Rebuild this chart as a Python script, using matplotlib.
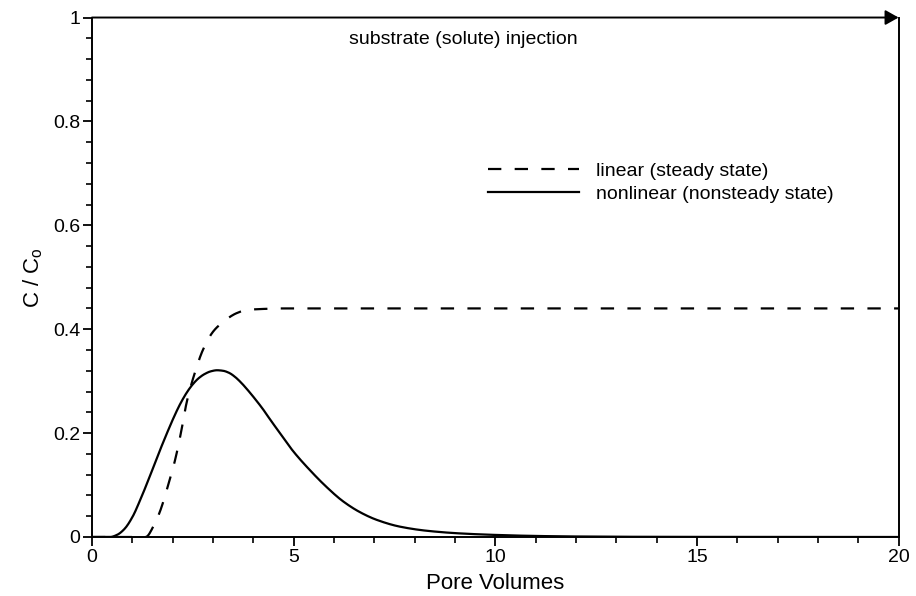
import matplotlib.pyplot as plt
import numpy as np

plt.rcParams['font.family'] = ['Liberation Sans', 'DejaVu Sans']
plt.rcParams['mathtext.fontset'] = 'custom'
plt.rcParams['mathtext.rm'] = 'Liberation Sans'

# linear (steady state) breakthrough curve
lin_x = [0.0, 1.33, 1.54, 1.69, 1.89, 2.06, 2.22, 2.35, 2.55, 2.75, 3.0, 3.22,
         3.59, 3.84, 4.24, 4.7, 5.5, 20.0]
lin_y = [0.0, 0.0, 0.023, 0.05, 0.10, 0.148, 0.206, 0.26, 0.316, 0.36, 0.395,
         0.412, 0.431, 0.437, 0.439, 0.44, 0.44, 0.44]

# nonlinear (nonsteady state) curve
nl_x = [0.0, 0.45, 0.62, 0.8, 1.0, 1.2, 1.44, 1.65, 1.86, 2.05, 2.18, 2.35,
        2.5, 2.65, 2.8, 2.95, 3.1, 3.25, 3.4, 3.55, 3.7, 3.85, 4.0, 4.24, 4.41,
        4.66, 4.98, 5.4, 5.82, 6.22, 6.64, 7.06, 7.63, 8.3, 9.1, 10.0, 11.0,
        12.0, 14.0, 20.0]
nl_y = [0.0, 0.0, 0.004, 0.015, 0.038, 0.072, 0.118, 0.16, 0.2, 0.234, 0.255,
        0.278, 0.294, 0.306, 0.314, 0.319, 0.321, 0.32, 0.316, 0.308, 0.297,
        0.284, 0.27, 0.246, 0.227, 0.2, 0.166, 0.129, 0.096, 0.069, 0.048,
        0.033, 0.02, 0.012, 0.007, 0.004, 0.002, 0.001, 0.0003, 0.0]

x_major = [0, 5, 10, 15, 20]
y_major = [0, 0.2, 0.4, 0.6, 0.8, 1]
y_labels = ['0', '0.2', '0.4', '0.6', '0.8', '1']


def pchip(xs, ys, n=800):
    # shape-preserving cubic through the read points
    xs = np.asarray(xs, float)
    ys = np.asarray(ys, float)
    h = np.diff(xs)
    d = np.diff(ys) / h
    m = np.zeros_like(ys)
    for k in range(1, len(xs) - 1):
        if d[k - 1] * d[k] > 0:
            w1 = 2 * h[k] + h[k - 1]
            w2 = h[k] + 2 * h[k - 1]
            m[k] = (w1 + w2) / (w1 / d[k - 1] + w2 / d[k])
    m[0], m[-1] = 0.0, 0.0
    xx = np.linspace(xs[0], xs[-1], n)
    i = np.clip(np.searchsorted(xs, xx) - 1, 0, len(h) - 1)
    t = (xx - xs[i]) / h[i]
    h00 = 2 * t**3 - 3 * t**2 + 1
    h10 = t**3 - 2 * t**2 + t
    h01 = -2 * t**3 + 3 * t**2
    h11 = t**3 - t**2
    yy = h00 * ys[i] + h10 * h[i] * m[i] + h01 * ys[i + 1] + h11 * h[i] * m[i + 1]
    return xx, yy


fig = plt.figure(figsize=(9.16, 5.96), dpi=100)
ax = fig.add_axes([0.1004, 0.099, 0.8806, 0.8716])

lx, ly = pchip(lin_x, lin_y)
nx, ny = pchip(nl_x, nl_y)
ax.plot(lx, ly, color='black', lw=1.6, dashes=(6, 6), label='linear (steady state)')
ax.plot(nx, ny, color='black', lw=1.6, label='nonlinear (nonsteady state)')

ax.set_xlim(0, 20)
ax.set_ylim(0, 1)
ax.spines['top'].set_visible(False)
for s in ['left', 'right', 'bottom']:
    ax.spines[s].set_linewidth(1.4)

# injection arrow along the top
ax.annotate('', xy=(20, 1), xytext=(0, 1), xycoords='data',
            arrowprops=dict(arrowstyle='-|>,head_length=0.8,head_width=0.45',
                            color='black', lw=1.4, shrinkA=0, shrinkB=0),
            annotation_clip=False)
ax.text(9.2, 0.957, 'substrate (solute) injection', ha='center', va='center', fontsize=14)

ax.set_xticks(x_major)
ax.set_xticks(np.arange(0, 21, 1), minor=True)
ax.set_yticks(y_major)
ax.set_yticklabels(y_labels)
ax.set_yticks(np.arange(0, 1.001, 0.04), minor=True)
ax.tick_params(which='major', length=6.5, width=1.3, labelsize=14, pad=2)
ax.tick_params(which='minor', length=4, width=1.2)
ax.tick_params(axis='y', which='both', right=False)

ax.set_xlabel('Pore Volumes', fontsize=16, labelpad=5)
ax.set_ylabel('C / C$_\\mathrm{o}$', fontsize=16, labelpad=6)

ax.legend(loc='upper left', bbox_to_anchor=(488 / 916, 1 - 162 / 596),
          bbox_transform=fig.transFigure, frameon=False, fontsize=14,
          handlelength=4.7, handletextpad=0.85, borderpad=0, borderaxespad=0,
          labelspacing=0.3)

fig.savefig('out.png', dpi=100)
